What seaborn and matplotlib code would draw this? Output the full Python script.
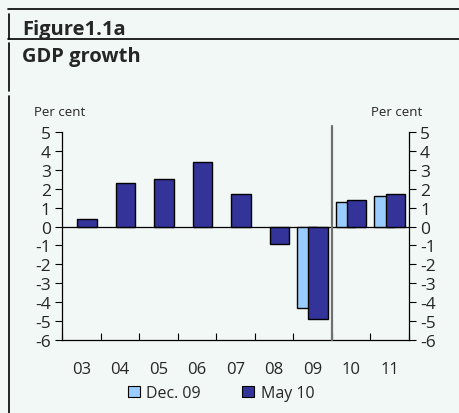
import matplotlib
matplotlib.use("Agg")
import matplotlib.pyplot as plt
from matplotlib.lines import Line2D
from matplotlib.patches import Patch
import numpy as np
import pandas as pd
import seaborn as sns

# Data
years = ["03", "04", "05", "06", "07", "08", "09", "10", "11"]
may10 = [0.4, 2.3, 2.5, 3.4, 1.7, -0.9, -4.9, 1.4, 1.7]
dec09_years = ["09", "10", "11"]
dec09 = [-4.3, 1.3, 1.6]
yticks = [5, 4, 3, 2, 1, 0, -1, -2, -3, -4, -5, -6]

BG = "#F1F8F5"
NAVY = "#333399"
LIGHT = "#99CCFF"

sns.set_theme(style="white")
plt.rcParams["font.family"] = ["Open Sans", "DejaVu Sans"]

W, H = 459, 414
fig = plt.figure(figsize=(W / 100, H / 100), dpi=100, facecolor=BG)
ax = fig.add_axes([62 / W, 1 - 341 / H, (409 - 62) / W, (341 - 133) / H])
ax.set_facecolor(BG)

offset = 0.145
bar_w = 0.505
idx = {y: i for i, y in enumerate(years)}

df_dec = pd.DataFrame({"pos": [idx[y] - offset for y in dec09_years], "val": dec09})
df_may = pd.DataFrame({"pos": [idx[y] + offset for y in years], "val": may10})

sns.barplot(data=df_dec, x="pos", y="val", native_scale=True, width=bar_w,
            color=LIGHT, saturation=1, edgecolor="black", linewidth=1,
            errorbar=None, ax=ax, zorder=3)
sns.barplot(data=df_may, x="pos", y="val", native_scale=True, width=bar_w,
            color=NAVY, saturation=1, edgecolor="black", linewidth=1,
            errorbar=None, ax=ax, zorder=4)

ax.set_xlim(-0.5, len(years) - 0.5)
ax.set_ylim(-6, 5)
ax.axhline(0, color="black", lw=0.9, zorder=2)

# divider between outcome and projection
split = idx["09"] + 0.5
ax.plot([split, split], [-6, 5.33], color="#707070", lw=1.6, clip_on=False, zorder=5)

ax.set_xlabel("")
ax.set_ylabel("")
ax.set_xticks(range(len(years)))
ax.set_xticklabels(years, fontsize=12)
ax.set_xticks(np.arange(-0.5, len(years)), minor=True)
ax.tick_params(axis="x", which="major", length=0, pad=15)
ax.tick_params(axis="x", which="minor", direction="in", length=5, width=0.8,
               color="black", bottom=True)
ax.set_yticks(yticks)
ax.set_yticklabels([str(v) for v in yticks], fontsize=12.5)
ax.tick_params(axis="y", which="major", direction="out", length=5, width=0.8,
               color="black", left=True, right=True, labelleft=True,
               labelright=True, pad=3)

for s in ["left", "right", "bottom"]:
    ax.spines[s].set_visible(True)
    ax.spines[s].set_color("black")
    ax.spines[s].set_linewidth(0.9)
ax.spines["top"].set_visible(False)

fig.text(60 / W, 1 - 112 / H, "Per cent", fontsize=9.5, ha="center", va="center")
fig.text(397 / W, 1 - 112 / H, "Per cent", fontsize=9.5, ha="center", va="center")

fig.text(22 / W, 1 - 30 / H, "Figure1.1a", fontsize=14.5, fontweight="bold",
         ha="left", va="center")
fig.text(22 / W, 1 - 57 / H, "GDP growth", fontsize=14.5, fontweight="bold",
         ha="left", va="center")

# frame lines
for y in (10, 40):
    fig.add_artist(Line2D([8 / W, 1], [1 - y / H, 1 - y / H], color="black", lw=1.2))
for y0, y1 in ((15, 40), (44, 92), (97, 414)):
    fig.add_artist(Line2D([9 / W, 9 / W], [1 - y0 / H, 1 - y1 / H], color="black", lw=1.2))

handles = [Patch(facecolor=LIGHT, edgecolor="black", lw=0.8, label="Dec. 09"),
           Patch(facecolor=NAVY, edgecolor="black", lw=0.8, label="May 10")]
fig.legend(handles=handles, loc="center", bbox_to_anchor=(221 / W, 1 - 394 / H),
           ncol=2, frameon=False, fontsize=11.5, handlelength=0.75,
           handleheight=0.75, handletextpad=0.4, columnspacing=2.6)

fig.savefig("out.png", dpi=100, facecolor=BG)
